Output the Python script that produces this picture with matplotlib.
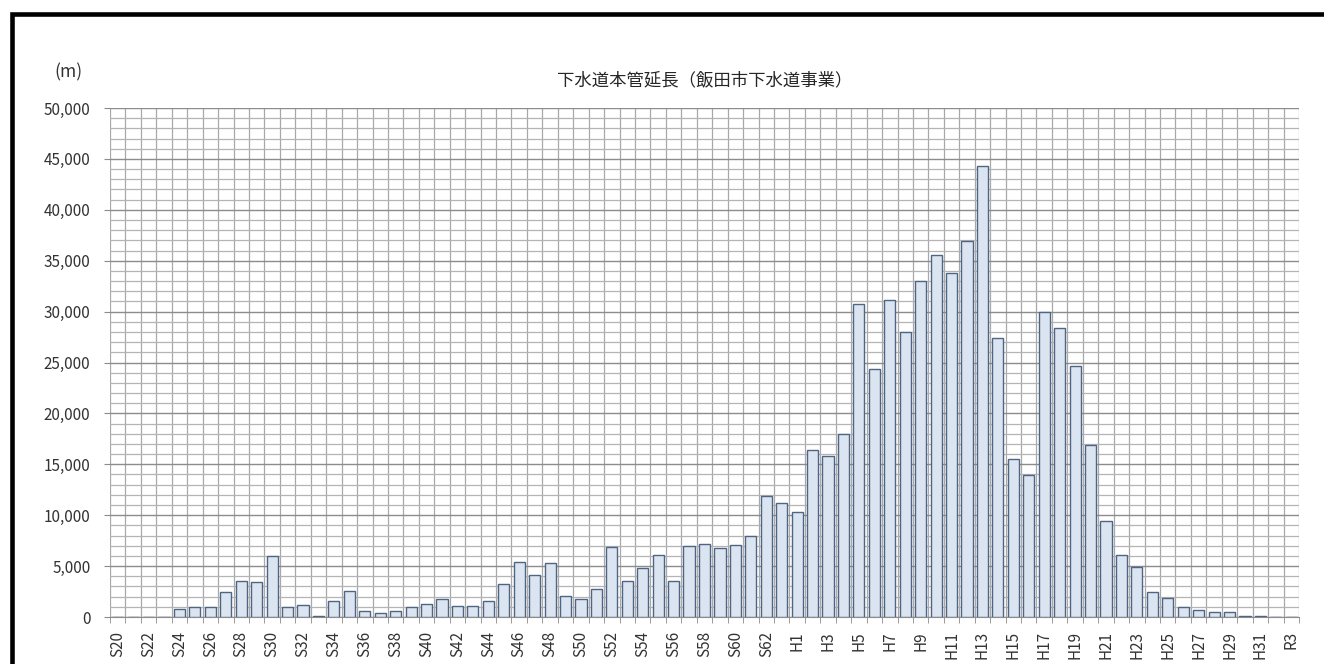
import matplotlib.pyplot as plt
from matplotlib.patches import Rectangle
from matplotlib.ticker import FuncFormatter, MultipleLocator

plt.rcParams['font.family'] = ['Noto Sans CJK JP', 'DejaVu Sans']

# 年度（昭和 S20〜S63, 平成 H1〜H31, 令和 R2〜R3）
years = ([f'S{n}' for n in range(20, 64)] +
         [f'H{n}' for n in range(1, 32)] +
         ['R2', 'R3'])

# 下水道本管延長 (m)
showa = [0, 0, 0, 0, 800, 1000, 1000, 2450, 3550, 3450,
         5950, 950, 1150, 100, 1550, 2600, 550, 400, 550, 1000,
         1300, 1750, 1050, 1050, 1550, 3200, 5450, 4150, 5350, 2100,
         1750, 2750, 6850, 3500, 4850, 6050, 3500, 6950, 7200, 6750,
         7100, 7950, 11900, 11200]
heisei = [10300, 16400, 15800, 18000, 30700, 24350, 31100, 27950, 33050, 35600,
          33800, 36900, 44300, 27400, 15550, 13900, 29950, 28350, 24650, 16900,
          9450, 6100, 4950, 2500, 1900, 950, 700, 500, 450, 100,
          100]
reiwa = [0, 0]
lengths = showa + heisei + reiwa

fig = plt.figure(figsize=(13.24, 6.64), dpi=100)
ax = fig.add_axes([110 / 1324, 1 - 617 / 664, 1189 / 1324, 509 / 664])

x = list(range(len(years)))
ax.bar(x, lengths, width=0.72, color='#dbe5f1', edgecolor='#4f6584',
       linewidth=1.0, zorder=3)

# 目盛と補助線
ax.set_ylim(0, 50000)
ax.set_xlim(-0.5, len(years) - 0.5)
ax.yaxis.set_major_locator(MultipleLocator(5000))
ax.yaxis.set_minor_locator(MultipleLocator(1000))
ax.yaxis.set_major_formatter(FuncFormatter(lambda v, p: f'{int(v):,}'))
ax.set_xticks(x[::2])
ax.set_xticklabels(years[::2], rotation=90)
ax.set_xticks([i - 0.5 for i in x] + [len(years) - 0.5], minor=True)

ax.grid(True, which='major', axis='y', color='#8c8c8c', linewidth=1.0, zorder=0)
ax.grid(True, which='minor', axis='y', color='#b4b4b4', linewidth=0.9, zorder=0)
ax.grid(True, which='minor', axis='x', color='#a8a8a8', linewidth=0.9, zorder=0)

ax.tick_params(axis='y', which='major', length=4, color='#8c8c8c', pad=10,
               labelsize=11, labelcolor='#333333')
ax.tick_params(axis='y', which='minor', length=0)
ax.tick_params(axis='x', which='major', length=0, pad=10,
               labelsize=11, labelcolor='#333333')
ax.tick_params(axis='x', which='minor', length=4, color='#8c8c8c')

for side in ['top', 'right', 'left']:
    ax.spines[side].set_visible(False)
ax.spines['bottom'].set_color('#8c8c8c')

fig.text((110 + 1299) / 2 / 1324, 1 - 80 / 664, '下水道本管延長（飯田市下水道事業）',
         ha='center', va='center', fontsize=12.5, color='#262626')
fig.text(68 / 1324, 1 - 72 / 664, '(m)', ha='center', va='center',
         fontsize=12.5, color='#333333')

# 外枠（右と下は画像外）
fig.add_artist(Rectangle((12 / 1324, -0.2), 1.5, 1.2 - 14 / 664,
                         transform=fig.transFigure, fill=False,
                         edgecolor='black', linewidth=3.3))

fig.savefig('out.png', dpi=100)
